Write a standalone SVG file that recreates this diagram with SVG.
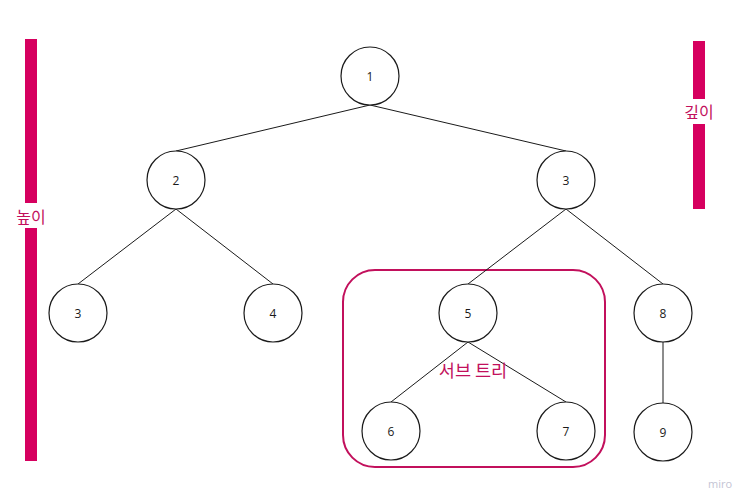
<svg xmlns="http://www.w3.org/2000/svg" width="750" height="504" viewBox="0 0 750 504">
<style>
.node circle{fill:#fff;stroke:#1a1a1a;stroke-width:1.2}
.node text{font-family:"Open Sans","Liberation Sans",sans-serif;font-size:12px;fill:#1a1a1a;text-anchor:middle;dominant-baseline:central}
.edges line{stroke:#1a1a1a;stroke-width:1}
.bar{fill:#d6005f}
.lbl{font-family:"Noto Sans CJK KR","Noto Sans",sans-serif;font-size:16px;fill:#c2105c;text-anchor:middle;dominant-baseline:central}
</style>
<rect width="750" height="504" fill="#fff"/>
<g id="height-bar">
<rect class="bar" x="25" y="39" width="12" height="164"/>
<rect class="bar" x="25" y="228" width="12" height="233"/>
<text class="lbl" x="31" y="216">높이</text>
</g>
<g id="depth-bar">
<rect class="bar" x="693" y="41" width="12" height="58"/>
<rect class="bar" x="693" y="124" width="12" height="85"/>
<text class="lbl" x="699" y="111">깊이</text>
</g>
<g id="subtree">
<rect x="343" y="270" width="262" height="197" rx="32" ry="32" fill="none" stroke="#c2105c" stroke-width="2"/>
</g>
<g class="edges" id="connectors">
<line x1="370" y1="105" x2="176" y2="151"/>
<line x1="370" y1="105" x2="566" y2="151"/>
<line x1="176" y1="209" x2="78" y2="284"/>
<line x1="176" y1="209" x2="273" y2="284"/>
<line x1="566" y1="209" x2="468" y2="284"/>
<line x1="566" y1="209" x2="663" y2="284"/>
<line x1="468" y1="342" x2="391" y2="402"/>
<line x1="468" y1="342" x2="566" y2="402"/>
<line x1="663" y1="342" x2="663" y2="403"/>
</g>
<g class="node" id="n1"><circle cx="370" cy="76" r="29"/><text x="370" y="76">1</text></g>
<g class="node" id="n2"><circle cx="176" cy="180" r="29"/><text x="176" y="180">2</text></g>
<g class="node" id="n3r"><circle cx="566" cy="180" r="29"/><text x="566" y="180">3</text></g>
<g class="node" id="n3l"><circle cx="78" cy="313" r="29"/><text x="78" y="313">3</text></g>
<g class="node" id="n4"><circle cx="273" cy="313" r="29"/><text x="273" y="313">4</text></g>
<g class="node" id="n5"><circle cx="468" cy="313" r="29"/><text x="468" y="313">5</text></g>
<g class="node" id="n8"><circle cx="663" cy="313" r="29"/><text x="663" y="313">8</text></g>
<g class="node" id="n6"><circle cx="391" cy="431" r="29"/><text x="391" y="431">6</text></g>
<g class="node" id="n7"><circle cx="566" cy="431" r="29"/><text x="566" y="431">7</text></g>
<g class="node" id="n9"><circle cx="663" cy="432" r="29"/><text x="663" y="432">9</text></g>
<text x="720" y="483" font-family="'Open Sans','Liberation Sans',sans-serif" font-size="11" fill="#c4c4d4" text-anchor="middle" dominant-baseline="central">miro</text>
<text class="lbl" x="473" y="369" style="font-size:17.5px">서브 트리</text>
</svg>
